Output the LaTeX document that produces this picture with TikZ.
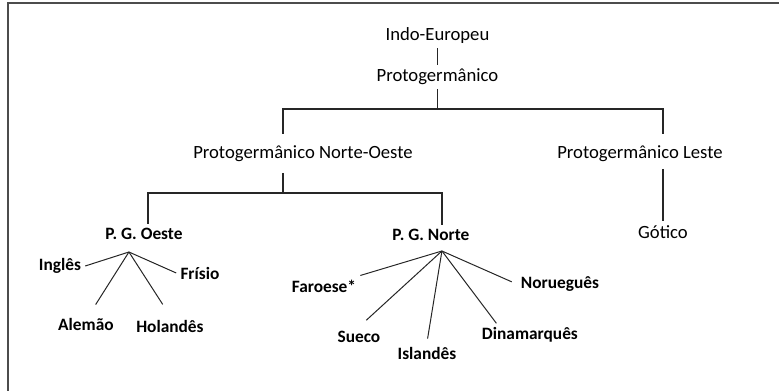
\documentclass[tikz,border=0pt]{standalone}
\usepackage{fontspec}
\setmainfont{Carlito}
\usetikzlibrary{positioning}

\tikzset{
  lang/.style={inner sep=3pt, font=\fontsize{14}{16}\selectfont},
  leaf/.style={lang, font=\fontsize{13}{15}\selectfont\bfseries},
  tree/.style={line width=1pt, black!85},
  branch/.style={line width=0.75pt, black!85},
}

\begin{document}
\begin{tikzpicture}[on grid]
        \useasboundingbox (0,0) rectangle (584.25pt,-293.25pt);
        \draw[line width=1.5pt, black!70] (6pt,-293.25pt) -- (6pt,-2.25pt) -- (584.25pt,-2.25pt);

        \node[lang]   (indo)     at (328.1pt,-27pt)                    {Indo-Europeu};
        \node[lang]   (protog)   [below=30.75pt of indo]                {Protogermânico};
        \node[lang]   (nwest)    [below left=57.75pt and 100.9pt of protog]  {Protogermânico Norte-Oeste};
        \node[lang]   (leste)    [below right=57.75pt and 151.9pt of protog] {Protogermânico Leste};
        \node[lang]   (gotico)   [below right=58.5pt and 17.25pt of leste]   {Gótico};
        \node[leaf]   (pgo)      [below left=60pt and 119.25pt of nwest]     {P. G. Oeste};
        \node[leaf]   (pgn)      [below right=60.75pt and 96pt of nwest]     {P. G. Norte};

        \node[leaf]   (ingles)   [below left=24pt and 63pt of pgo]      {Inglês};
        \node[leaf]   (frisio)   [below right=29.25pt and 42pt of pgo]  {Frísio};
        \node[leaf]   (alemao)   [below left=67.5pt and 43.5pt of pgo]  {Alemão};
        \node[leaf]   (holandes) [below right=69pt and 19.5pt of pgo]   {Holandês};

        \node[leaf]   (faroese)  [below left=38.25pt and 80.25pt of pgn] {Faroese*};
        \node[leaf]   (sueco)    [below left=76.5pt and 54pt of pgn]     {Sueco};
        \node[leaf]   (islandes) [below left=88.5pt and 3pt of pgn]      {Islandês};
        \node[leaf]   (dinamarques) [below right=75pt and 74.25pt of pgn] {Dinamarquês};
        \node[leaf]   (noruegues) [below right=36.75pt and 96.75pt of pgn] {Norueguês};

        % junctions
        \coordinate[below=24pt of protog] (b1);
        \coordinate[below left=29.25pt and 15pt of nwest] (b2);
        \coordinate[below left=13.5pt and 11.25pt of pgo] (fanO);
        \coordinate[below right=12pt and 8.25pt of pgn] (fanN);

        \draw[tree] (indo) -- (protog);
        \draw[tree] (protog) -- (b1);
        \draw[tree, shorten <=5.8pt, shorten >=5.8pt]
            ([xshift=-15pt]nwest.north) |- (b1) -| ([xshift=17.25pt]leste.north);
        \draw[tree, shorten <=2pt] ([xshift=17.25pt]leste.south) -- (gotico.north);
        \draw[tree, shorten <=5pt] ([xshift=-15pt]nwest.south) -- (b2);
        \draw[tree] ([xshift=3pt]pgo.north) |- (b2) -| ([xshift=8.25pt]pgn.north);

        \draw[branch] (fanO) -- (ingles.east);
        \draw[branch] (fanO) -- (frisio.west);
        \draw[branch, shorten >=8pt] (fanO) -- ([xshift=3pt]alemao.north);
        \draw[branch, shorten >=10pt] (fanO) -- (holandes.north);

        \draw[branch] (fanN) -- (faroese.north east);
        \draw[branch, shorten >=7.5pt] (fanN) -- (sueco.north);
        \draw[branch, shorten >=3pt] (fanN) -- (islandes.north);
        \draw[branch] (fanN) -- ([xshift=14pt]dinamarques.north west);
        \draw[branch, shorten >=4pt] (fanN) -- (noruegues.west);
    \end{tikzpicture}
\end{document}
